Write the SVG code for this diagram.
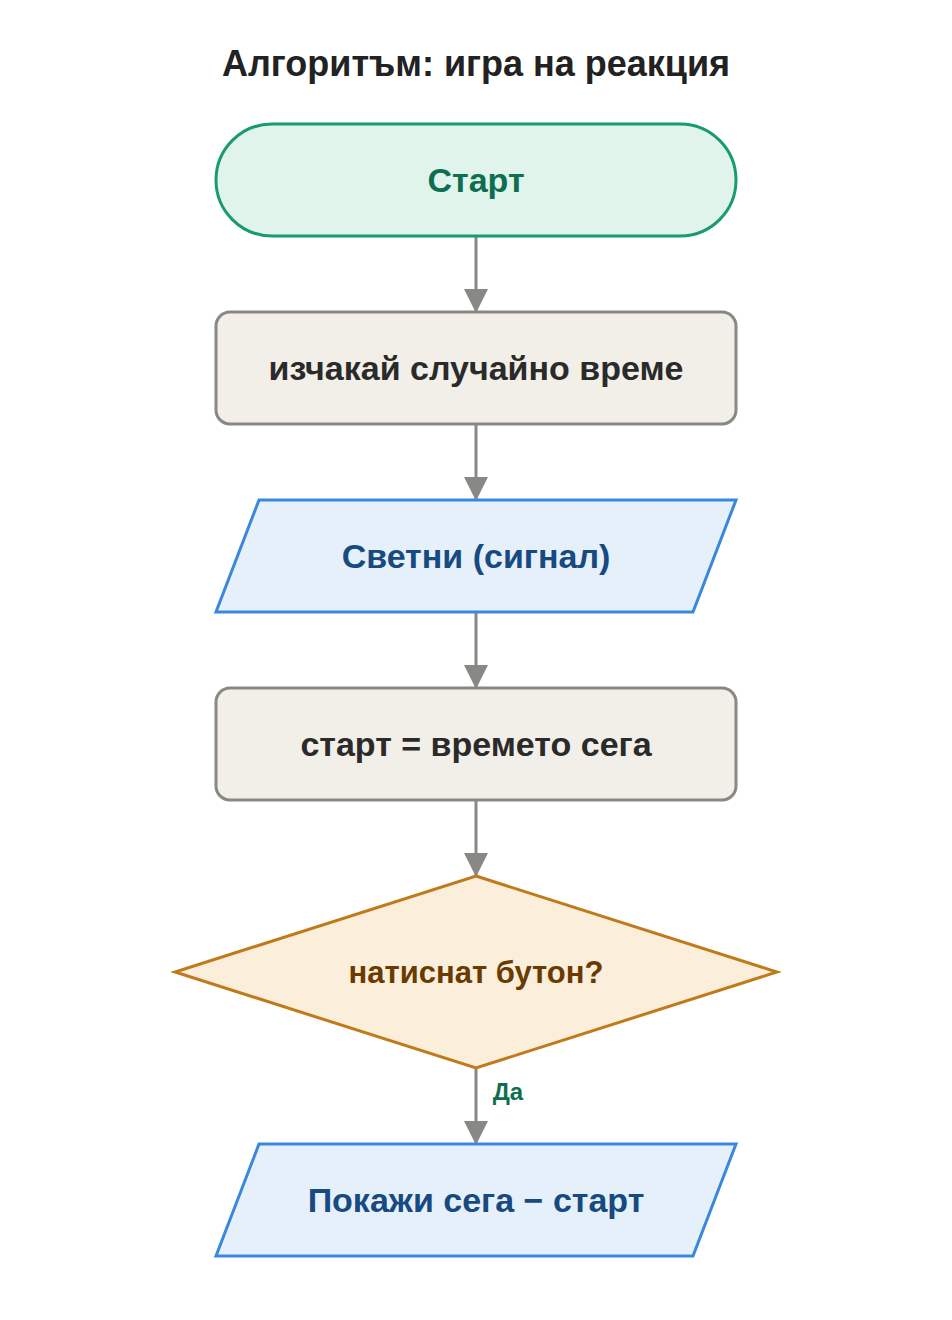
<svg xmlns="http://www.w3.org/2000/svg" width="952" height="1320" viewBox="0 0 952 1320">
<style>
text{font-family:"Liberation Sans",Arial,sans-serif;font-weight:bold;text-anchor:middle;dominant-baseline:central}
.proc{fill:#f2efe8;stroke:#888884;stroke-width:3}
.io{fill:#e6f0fa;stroke:#3a88dd;stroke-width:3}
.ptxt{fill:#2a2a2a;font-size:34px}
.iotxt{fill:#174a80;font-size:34px}
.edge{stroke:#888884;stroke-width:3;fill:none;marker-end:url(#ah)}
</style>
<defs><marker id="ah" markerWidth="24" markerHeight="32" refX="22" refY="12" orient="auto" markerUnits="userSpaceOnUse"><path d="M0,0 L24,12 L0,24 Z" fill="#888884"/></marker></defs>
<rect width="952" height="1320" fill="#fff"/>
<text x="476" y="63" font-size="36" fill="#222">Алгоритъм: игра на реакция</text>
<g id="connectors">
<line class="edge" x1="476" y1="236" x2="476" y2="311"/>
<line class="edge" x1="476" y1="424" x2="476" y2="499"/>
<line class="edge" x1="476" y1="612" x2="476" y2="687"/>
<line class="edge" x1="476" y1="800" x2="476" y2="875"/>
<line class="edge" x1="476" y1="1068" x2="476" y2="1143"/>
<text x="508" y="1091" font-size="24" fill="#0e6e50">Да</text>
</g>
<g id="start"><rect x="216" y="124" width="520" height="112" rx="56" fill="#e0f4ec" stroke="#1a9a70" stroke-width="3"/><text x="476" y="180" font-size="34" fill="#0e6e50">Старт</text></g>
<g id="wait"><rect class="proc" x="216" y="312" width="520" height="112" rx="14"/><text class="ptxt" x="476" y="368">изчакай случайно време</text></g>
<g id="signal"><polygon class="io" points="259,500 736,500 693,612 216,612"/><text class="iotxt" x="476" y="556">Светни (сигнал)</text></g>
<g id="settime"><rect class="proc" x="216" y="688" width="520" height="112" rx="14"/><text class="ptxt" x="476" y="744">старт = времето сега</text></g>
<g id="decision"><polygon points="476,876 777,972 476,1068 175,972" fill="#fbeedb" stroke="#c07a1a" stroke-width="3"/><text x="476" y="972" font-size="31" fill="#6a3a00">натиснат бутон?</text></g>
<g id="show"><polygon class="io" points="259,1144 736,1144 693,1256 216,1256"/><text class="iotxt" x="476" y="1200">Покажи сега − старт</text></g>
</svg>
